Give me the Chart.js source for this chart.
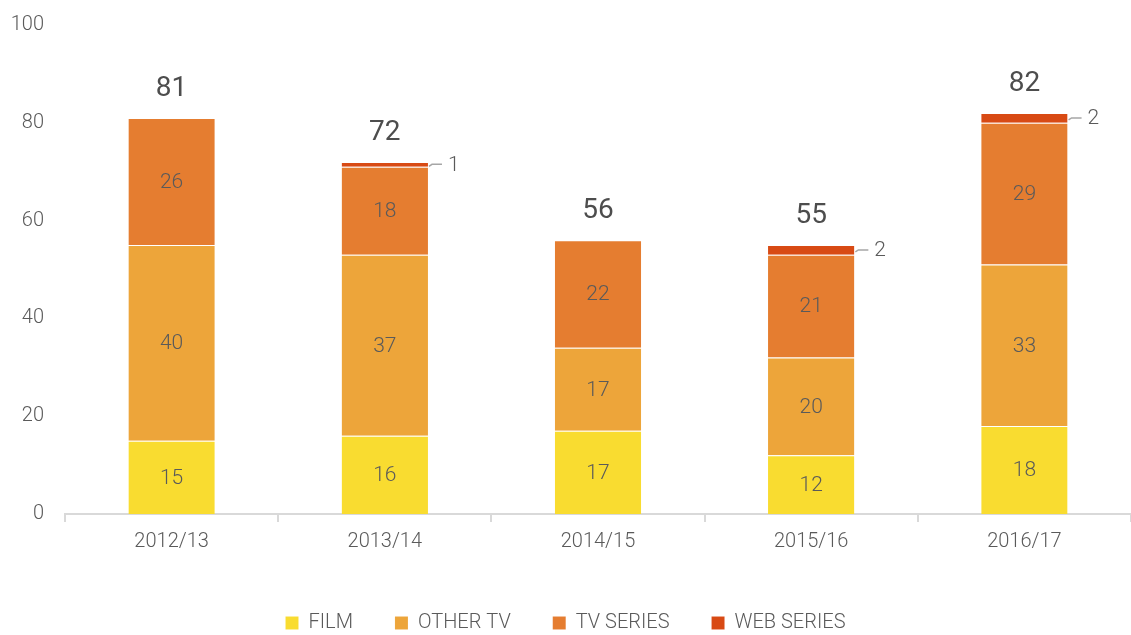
<!DOCTYPE html>
<html>
<head>
<meta charset="utf-8">
<script src="https://cdn.jsdelivr.net/npm/chart.js@4"></script>
<style>
  html, body { margin: 0; padding: 0; background: #fff; }
  #wrap { width: 1131px; height: 635px; }
</style>
</head>
<body>
<div id="wrap"><canvas id="myChart"></canvas></div>
<script>
const years = ['2012/13', '2013/14', '2014/15', '2015/16', '2016/17'];
const film = [15, 16, 17, 12, 18];
const otherTv = [40, 37, 17, 20, 33];
const tvSeries = [26, 18, 22, 21, 29];
const webSeries = [0, 1, 0, 2, 2];
const totals = [81, 72, 56, 55, 82];

const FONT = "'Roboto', sans-serif";
const textGrey = '#5a5a5a';

// labels inside the segments, web series beside the bar, totals on top
const labelPlugin = {
  id: 'labels',
  afterDatasetsDraw(chart) {
    const c = chart.ctx;
    c.save();
    c.font = '300 21px ' + FONT;
    c.fillStyle = textGrey;
    c.textAlign = 'center';
    c.textBaseline = 'middle';
    for (let d = 0; d < 3; d++) {
      const meta = chart.getDatasetMeta(d);
      meta.data.forEach((bar, i) => {
        const v = chart.data.datasets[d].data[i];
        c.fillText(v, bar.x, (bar.y + bar.base) / 2 + 1);
      });
    }
    const web = chart.getDatasetMeta(3);
    web.data.forEach((bar, i) => {
      const v = webSeries[i];
      if (!v) return;
      const y = (bar.y + bar.base) / 2;
      const right = bar.x + bar.width / 2;
      c.strokeStyle = '#a6a6a6';
      c.lineWidth = 1.5;
      c.beginPath();
      c.moveTo(right + 1, y + 2);
      c.lineTo(right + 4, y);
      c.lineTo(right + 14, y);
      c.stroke();
      c.textAlign = 'left';
      c.fillText(v, right + 20, y + 1);
    });
    c.font = '28px ' + FONT;
    c.fillStyle = '#4d4d4d';
    c.textAlign = 'center';
    const top = chart.getDatasetMeta(3);
    top.data.forEach((bar, i) => {
      const y = chart.scales.y.getPixelForValue(totals[i]);
      c.fillText(totals[i], bar.x, y - 29);
    });
    c.restore();
  }
};

new Chart(document.getElementById('myChart'), {
  type: 'bar',
  data: {
    labels: years,
    datasets: [
      { label: 'FILM', data: film, backgroundColor: '#f9dc30' },
      { label: 'OTHER TV', data: otherTv, backgroundColor: '#eda53a' },
      { label: 'TV SERIES', data: tvSeries, backgroundColor: '#e57d30' },
      { label: 'WEB SERIES', data: webSeries, backgroundColor: '#d84a14' }
    ]
  },
  options: {
    responsive: true,
    maintainAspectRatio: false,
    animation: false,
    datasets: {
      bar: {
        barPercentage: 0.405,
        categoryPercentage: 1,
        borderColor: 'rgba(255,255,255,0.22)',
        borderWidth: { top: 1 },
        borderSkipped: false
      }
    },
    layout: { padding: { top: 4, right: 0, left: 0, bottom: -8 } },
    plugins: {
      legend: {
        position: 'bottom',
        labels: {
          boxWidth: 13,
          boxHeight: 13,
          padding: 42,
          color: textGrey,
          font: { family: FONT, size: 20, weight: '300' }
        }
      },
      tooltip: { enabled: false }
    },
    scales: {
      x: {
        stacked: true,
        afterFit: (s) => { s.height += 9; },
        grid: {
          offset: true,
          drawOnChartArea: false,
          drawTicks: true,
          tickLength: 8,
          color: '#d9d9d9',
          lineWidth: 2
        },
        border: { color: '#d9d9d9', width: 2 },
        ticks: {
          color: textGrey,
          padding: 8,
          font: { family: FONT, size: 20, weight: '300' }
        }
      },
      y: {
        stacked: true,
        min: 0,
        max: 100,
        afterFit: (s) => { s.width = 65; },
        grid: { display: false },
        border: { display: false },
        ticks: {
          stepSize: 20,
          padding: 13,
          color: textGrey,
          font: { family: FONT, size: 20, weight: '300' }
        }
      }
    }
  },
  plugins: [labelPlugin]
});
</script>
</body>
</html>
